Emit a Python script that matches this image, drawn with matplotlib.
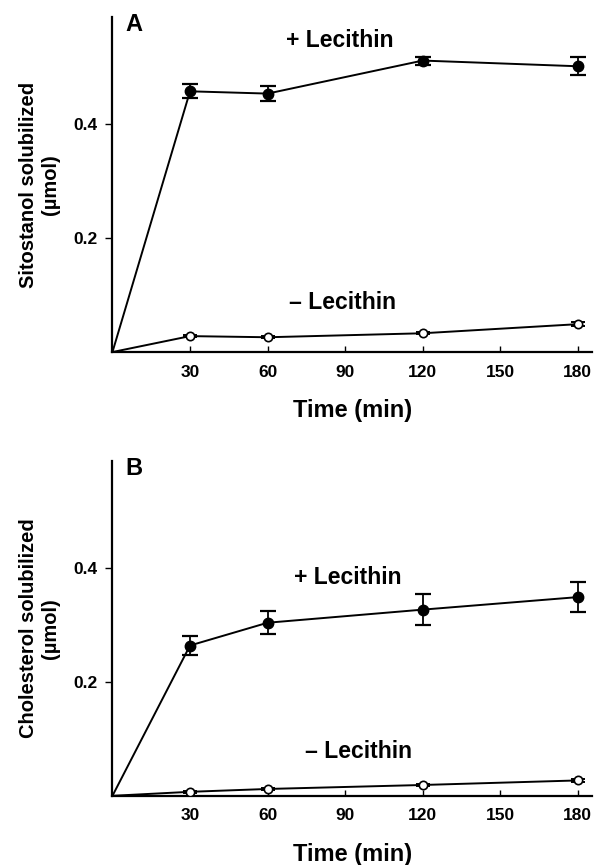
import numpy as np
import matplotlib
matplotlib.use("Agg")
import matplotlib.pyplot as plt

plt.rcParams['font.family'] = ['Liberation Sans', 'DejaVu Sans']
plt.rcParams['font.weight'] = 'bold'

# datos (tiempo en min, µmol)
tiempo = [0, 30, 60, 120, 180]

sito_con = [0, 0.458, 0.454, 0.512, 0.502]
sito_con_err = [0, 0.012, 0.013, 0.007, 0.016]
sito_sin = [0, 0.028, 0.026, 0.033, 0.049]
sito_sin_err = [0, 0.002, 0.002, 0.002, 0.004]

col_con = [0, 0.264, 0.304, 0.327, 0.349]
col_con_err = [0, 0.016, 0.020, 0.027, 0.026]
col_sin = [0, 0.007, 0.012, 0.019, 0.027]
col_sin_err = [0, 0.002, 0.002, 0.002, 0.003]

xticks = [30, 60, 90, 120, 150, 180]
yticks = [0.2, 0.4]

fig = plt.figure(figsize=(5.95, 8.65), dpi=100)
axA = fig.add_axes([0.189, 0.593, 0.806, 0.387])
axB = fig.add_axes([0.189, 0.080, 0.806, 0.387])


def panel(ax, con, con_err, sin, sin_err, letra, ylab, pos_con, pos_sin):
    t = np.array(tiempo)
    ax.errorbar(t[1:], con[1:], yerr=con_err[1:], fmt='none', ecolor='black',
                elinewidth=1.3, capsize=6, capthick=1.6, zorder=2)
    ax.errorbar(t[1:], sin[1:], yerr=sin_err[1:], fmt='none', ecolor='black',
                elinewidth=1.3, capsize=5, capthick=1.4, zorder=2)
    ax.plot(t, con, color='black', lw=1.4, marker='o', ms=7.5,
            mfc='black', mec='black', markevery=slice(1, None), zorder=3)
    ax.plot(t, sin, color='black', lw=1.4, marker='o', ms=6,
            mfc='white', mec='black', mew=1.2, markevery=slice(1, None), zorder=3)
    ax.set_xlim(0, 185.5)
    ax.set_ylim(0, 0.588)
    ax.set_xticks(xticks)
    ax.set_yticks(yticks)
    ax.set_yticklabels(['0.2', '0.4'])
    ax.spines['top'].set_visible(False)
    ax.spines['right'].set_visible(False)
    ax.spines['left'].set_linewidth(1.6)
    ax.spines['bottom'].set_linewidth(1.6)
    ax.tick_params(axis='x', direction='in', length=4, width=1, labelsize=12.5, pad=9)
    ax.tick_params(axis='y', direction='out', length=5, width=1, labelsize=12.5, pad=6)
    ax.set_xlabel('Time (min)', fontsize=17, fontweight='bold', labelpad=14)
    ax.set_ylabel(ylab, fontsize=14.5, fontweight='bold', labelpad=9)
    ax.text(0.026, 1.012, letra, transform=ax.transAxes, fontsize=17,
            fontweight='bold', va='top', ha='left')
    ax.text(pos_con[0], pos_con[1], '+ Lecithin', fontsize=16.5,
            fontweight='bold', ha='center', va='center')
    ax.text(pos_sin[0], pos_sin[1], '\u2013 Lecithin', fontsize=16.5,
            fontweight='bold', ha='center', va='center')


panel(axA, sito_con, sito_con_err, sito_sin, sito_sin_err, 'A',
      'Sitostanol solubilized\n(\u00b5mol)', (88, 0.548), (89, 0.087))
panel(axB, col_con, col_con_err, col_sin, col_sin_err, 'B',
      'Cholesterol solubilized\n(\u00b5mol)', (91, 0.384), (95, 0.077))

fig.savefig('out.png', dpi=100)
